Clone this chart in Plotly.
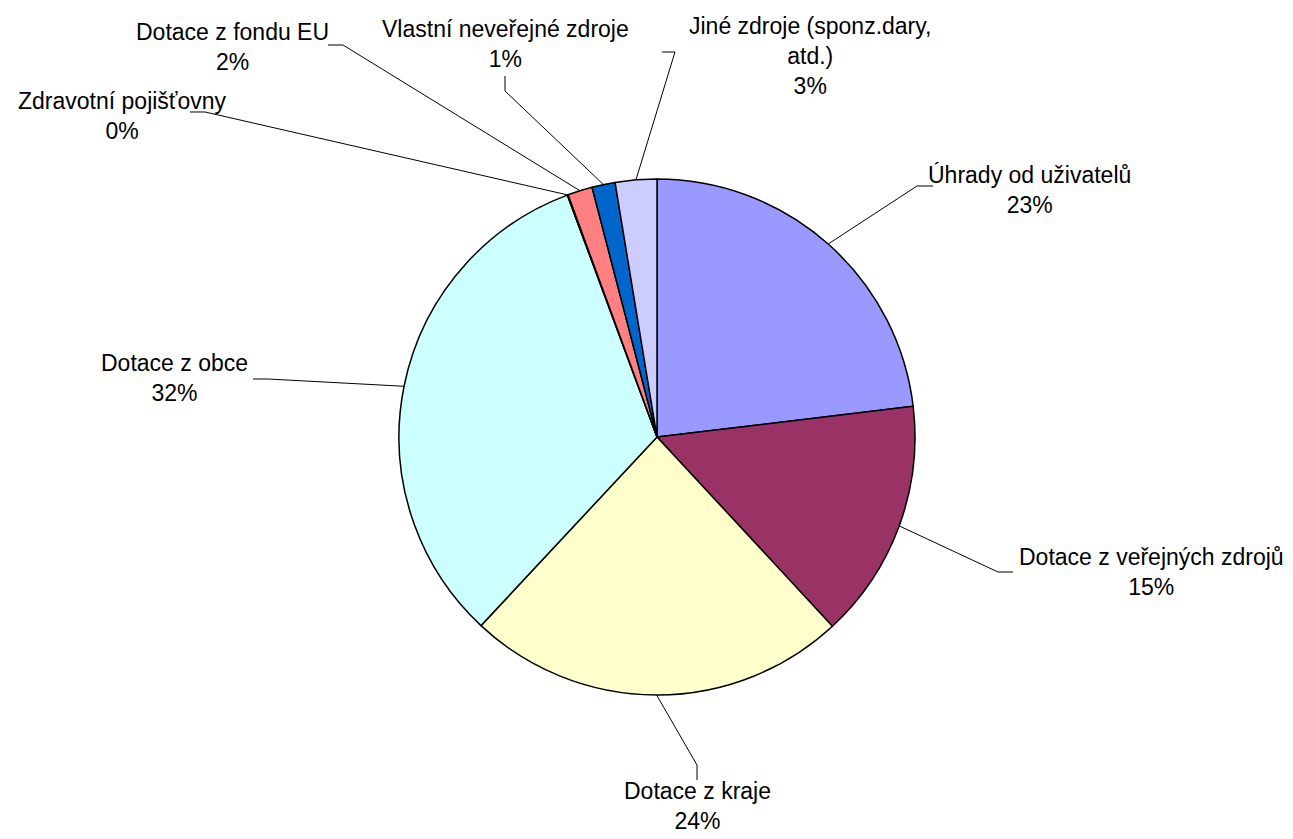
import math
import plotly.graph_objects as go

# ---- data ----
categories = [
    "Úhrady od uživatelů",
    "Dotace z veřejných zdrojů",
    "Dotace z kraje",
    "Dotace z obce",
    "Zdravotní pojišťovny",
    "Dotace z fondu EU",
    "Vlastní neveřejné zdroje",
    "Jiné zdroje (sponz.dary,<br>atd.)",
]
values = [23.1, 15.0, 23.85, 32.4, 0.05, 1.55, 1.45, 2.6]
colors = ["#9999FF", "#993366", "#FFFFCC", "#CCFFFF", "#660066", "#FF8080", "#0066CC", "#CCCCFF"]

# ---- layout constants (pixels) ----
W, H = 1293, 839
CX, CY, R = 657, 437, 258
FONT = dict(family="Liberation Sans, Arial, sans-serif", size=23, color="black")

# label placement: text centre and leader-line elbow points (pixels)
label_pos = [
    ((1029, 190), [(933, 186), (917, 186)]),
    ((1151, 572), [(1013, 572), (998, 572)]),
    ((697, 806), [(697, 780), (697, 765)]),
    ((174, 378), [(253, 379), (268, 379)]),
    ((122, 116), [(190, 112), (205, 112)]),
    ((232, 47), [(328, 45), (343, 45)]),
    ((505, 44), [(505, 76), (505, 91)]),
    ((810, 56), [(662, 52), (675, 52)]),
]


def px(x):
    return x / W


def py(y):
    return 1 - y / H


fig = go.Figure(
    go.Pie(
        labels=categories,
        values=values,
        sort=False,
        direction="clockwise",
        rotation=0,
        marker=dict(colors=colors, line=dict(color="black", width=1.5)),
        textinfo="none",
        hoverinfo="label+percent",
        showlegend=False,
        domain=dict(x=[px(CX - R), px(CX + R)], y=[py(CY + R), py(CY - R)]),
    )
)

total = sum(values)
cum = 0.0
annotations = []
shapes = []
for cat, v, (tc, elbows) in zip(categories, values, label_pos):
    mid = (cum + v / 2) / total * 2 * math.pi
    cum += v
    ex = CX + R * math.sin(mid)
    ey = CY - R * math.cos(mid)
    pct = round(v / total * 100)
    annotations.append(dict(
        x=px(tc[0]), y=py(tc[1]), xref="paper", yref="paper",
        text=f"{cat}<br>{pct}%", showarrow=False, font=FONT,
        xanchor="center", yanchor="middle", align="center",
    ))
    pts = list(elbows) + [(ex, ey)]
    path = "M " + " L ".join(f"{px(a):.5f},{py(b):.5f}" for a, b in pts)
    shapes.append(dict(type="path", xref="paper", yref="paper", path=path,
                       line=dict(color="black", width=1)))

fig.update_layout(
    width=W, height=H,
    margin=dict(l=0, r=0, t=0, b=0),
    paper_bgcolor="white", plot_bgcolor="white",
    annotations=annotations, shapes=shapes,
)

fig.write_html("out.html")
